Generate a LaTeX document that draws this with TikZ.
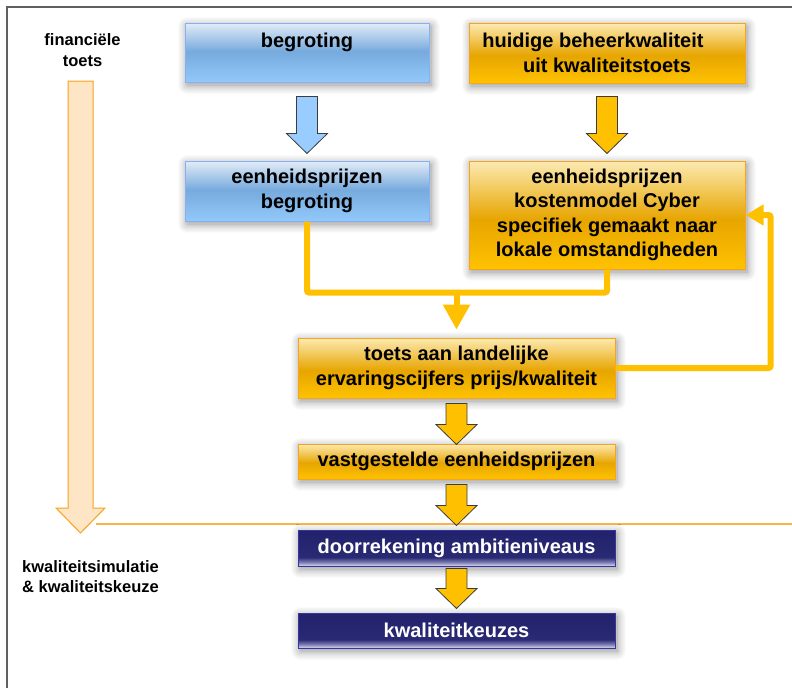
\documentclass[tikz,border=0pt]{standalone}
\usepackage{fontspec}
\setmainfont{Liberation Sans}
\usetikzlibrary{calc,arrows.meta,shadows.blur}

\definecolor{blueT}{HTML}{E2ECF7}
\definecolor{blueM}{HTML}{77AADD}
\definecolor{blueB}{HTML}{92C9FA}
\definecolor{orangeT}{HTML}{FCEAB2}
\definecolor{orangeM}{HTML}{E7A500}
\definecolor{orangeB}{HTML}{FFC200}
\definecolor{navyT}{HTML}{22226C}
\definecolor{navyM}{HTML}{2A2A74}
\definecolor{navyL}{HTML}{8080B8}
\definecolor{navyB}{HTML}{DCDCEE}
\definecolor{blueline}{HTML}{85B0F5}
\definecolor{orangeline}{HTML}{F8A31C}
\definecolor{navyline}{HTML}{3636A0}
\definecolor{connorange}{HTML}{FFC000}
\definecolor{arrowblue}{HTML}{99CCFF}
\definecolor{arrowedge}{HTML}{3C3C3C}
\definecolor{finfill}{HTML}{FDE5C5}
\definecolor{framegray}{HTML}{606060}

\pgfdeclareverticalshading{blueshade}{100bp}{color(0bp)=(blueB); color(25bp)=(blueB); color(51bp)=(blueM); color(75bp)=(blueT); color(100bp)=(blueT)}
\pgfdeclareverticalshading{orangeshade}{100bp}{color(0bp)=(orangeB); color(25bp)=(orangeB); color(48bp)=(orangeM); color(75bp)=(orangeT); color(100bp)=(orangeT)}
\pgfdeclareverticalshading{navyshade}{100bp}{color(0bp)=(navyB); color(25bp)=(navyB); color(30bp)=(navyL); color(37bp)=(navyM); color(75bp)=(navyT); color(100bp)=(navyT)}

\newcommand{\boxfont}{\fontsize{20}{24.5}\selectfont\bfseries}
\newcommand{\sidefont}{\fontsize{16.5}{20.5}\selectfont\bfseries}

% block arrow below a box: style, box, gap, length
\newcommand{\blockarrow}[4]{%
  \draw[#1] ($(#2.south)+(-10.5,#3)$) -- ++(21,0) -- ++(0,{#4-20}) -- ++(10,0)
    -- ++(-20.5,20) -- ++(-20.5,-20) -- ++(10,0) -- cycle;}

\tikzset{
  box/.style={draw, line width=1pt, inner sep=0pt, align=center, font=\boxfont,
    blur shadow={shadow xshift=2pt, shadow yshift=-3pt, shadow blur radius=9pt, shadow blur steps=8, shadow opacity=45}},
  bluebox/.style={box, draw=blueline, shading=blueshade},
  orangebox/.style={box, draw=orangeline, shading=orangeshade},
  navybox/.style={box, draw=navyline, shading=navyshade, text=white},
  conn/.style={draw=connorange, line width=6pt, rounded corners=2pt},
  bluearrow/.style={draw=arrowedge, line width=0.8pt, fill=arrowblue},
  orangearrow/.style={draw=arrowedge, line width=0.8pt, fill=connorange},
  finarrow/.style={draw=orangeline, line width=1pt, fill=finfill},
  sidelabel/.style={font=\sidefont, inner sep=0pt}
}

\begin{document}
\begin{tikzpicture}[x=1pt, y=-1pt]
  \useasboundingbox (0,0) rectangle (792,688);

  % frame
  \draw[framegray, line width=1.5pt] (7,688) -- (7,7) -- (792,7);

  % side labels and phase arrow
  \node[sidelabel, align=center] (fin) at (82.5,50) {financiële\\toets};
  \node[sidelabel, align=left, anchor=west] (kwsim) at (22,576.5) {kwaliteitsimulatie\\\& kwaliteitskeuze};
  \draw[finarrow] (68,81) -- (93,81) -- (93,508) -- (105,508) -- (80.5,533) -- (56,508) -- (68,508) -- cycle;
  \draw[orangeline!80, line width=1.2pt] (96,524) -- (792,524);

  % boxes
  \node[bluebox, minimum width=244pt, minimum height=59pt] (begr) at (307,52.5) {begroting\\\mbox{}};
  \node[orangebox, minimum width=276pt, minimum height=60pt] (huidig) at (607,53) {huidige beheerkwaliteit\hspace*{28pt}\\uit kwaliteitstoets};
  \node[bluebox, minimum width=244pt, minimum height=60pt] (eenhbeg) at (307,191) {eenheidsprijzen\\begroting};
  \node[orangebox, minimum width=276pt, minimum height=108pt] (cyber) at (607,215) {eenheidsprijzen\\kostenmodel Cyber\\specifiek gemaakt naar\\lokale omstandigheden};
  \node[orangebox, minimum width=317pt, minimum height=60pt] (toets) at (456.5,368) {toets aan landelijke\\ervaringscijfers prijs/kwaliteit};
  \node[orangebox, minimum width=317pt, minimum height=35pt] (vast) at (456.5,461.5) {vastgestelde eenheidsprijzen};
  \node[navybox, minimum width=317pt, minimum height=36pt] (door) at (456.5,548) {doorrekening ambitieniveaus};
  \node[navybox, minimum width=317pt, minimum height=35pt] (kwal) at (456.5,630.5) {kwaliteitkeuzes};

  % block arrows
  \blockarrow{bluearrow}{begr}{14}{57}
  \blockarrow{orangearrow}{huidig}{13}{57}
  \blockarrow{orangearrow}{toets}{5}{41}
  \blockarrow{orangearrow}{vast}{5}{41}
  \blockarrow{orangearrow}{door}{2}{40}

  % connectors
  \path (toets.north) ++(0,-45) coordinate (merge);
  \draw[conn] (eenhbeg.south) |- (merge) -| (cyber.south);
  \draw[conn, -{Triangle[length=25pt,width=26pt]}, shorten >=8pt] (merge) -- (toets.north);
  \draw[conn, -{Triangle[length=18pt,width=20pt]}] (toets.east) -- ++(155,0) |- (cyber.east);
\end{tikzpicture}
\end{document}
